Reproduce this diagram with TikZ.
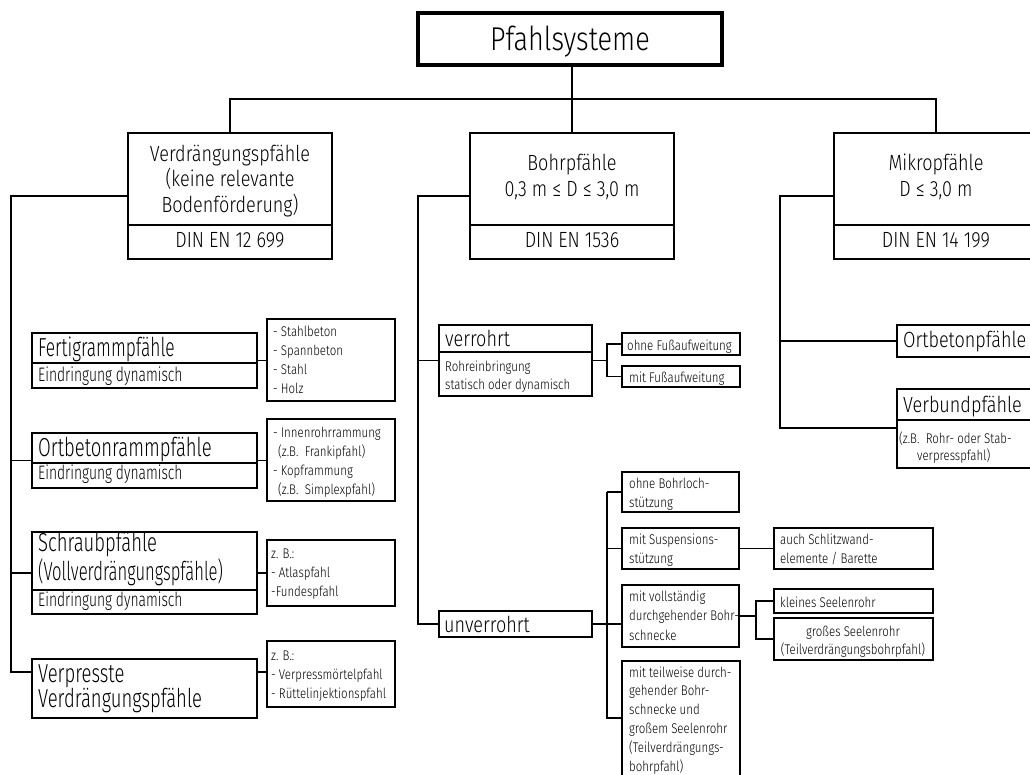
\documentclass[tikz,border=0pt]{standalone}
\usepackage{graphicx}
\usepackage{fontspec}
\IfFontExistsTF{Fira Sans Light}{%
  \setmainfont{Fira Sans Light}[FakeStretch=0.82]%
  \newfontfamily\narrowfont{Fira Sans Light}[FakeStretch=0.71]}{%
  \setmainfont{Fira Sans}[FakeStretch=0.82]%
  \newfontfamily\narrowfont{Fira Sans}[FakeStretch=0.71]}
\usetikzlibrary{calc}
\tikzset{
 box/.style={draw, line width=2.8pt, inner sep=0pt, outer sep=0pt, anchor=north west},
 con/.style={line width=1.3pt},
 div/.style={line width=1.3pt},
 lt/.style={inner sep=0pt, anchor=base west, align=left},
 ct/.style={inner sep=0pt, anchor=base, align=center},
 fA/.style={font=\fontsize{33}{33}\selectfont},
 fB/.style={font=\fontsize{22}{25.5}\selectfont},
 fC/.style={font=\narrowfont\fontsize{26}{25}\selectfont},
 fD/.style={font=\narrowfont\fontsize{19.5}{19}\selectfont},
 fF/.style={font=\fontsize{14}{19}\selectfont},
}
\newcommand\bx[6][]{\node[box,minimum width={(#5-#3)*1pt},minimum height={(#6-#4)*1pt},#1] (#2) at (#3,#4) {};}
\begin{document}
\begin{tikzpicture}[x=1pt,y=-1pt]
\useasboundingbox (0,0) rectangle (1030,774);
\fill[white] (0,0) rectangle (1030,774);
% root
\bx[line width=3.2pt]{root}{418}{13}{722}{65}
\node[ct,fA] (rootT) at (570,50) {Pfahlsysteme};
% main boxes
\bx{verd}{128}{133}{332}{259}
\bx{bohr}{470}{133}{674}{259}
\bx{mikro}{834}{133}{1038}{259}
\foreach \n in {verd,bohr,mikro} \draw[div] (\n.west |- 0,225) -- (\n.east |- 0,225);
\node[ct,fB] (verdT) at (230,212) {Verdrängungspfähle\\(keine relevante\\Bodenförderung)};
\node[ct,fB] (verdN) at (230,247) {DIN EN 12 699};
\node[ct,fB,font=\fontsize{22}{26}\selectfont] (bohrT) at (572,196) {Bohrpfähle\\0,3 m ≤ D ≤ 3,0 m};
\node[ct,fB] (bohrN) at (572,247) {DIN EN 1536};
\node[ct,fB,font=\fontsize{22}{26}\selectfont] (mikroT) at (936,196) {Mikropfähle\\D ≤ 3,0 m};
\node[ct,fB] (mikroN) at (936,247) {DIN EN 14 199};
% top connectors
\coordinate (bus) at (572,99);
\draw[con] (root.south -| bohr.north) -- (bohr.north);
\draw[con] (verd.north) |- (bus) -| (mikro.north);
% left column
\bx{fert}{32}{333}{257}{388}
\draw[div] (fert.west |- 0,363) -- (fert.east |- 0,363);
\node[lt,fC] (fertT) at (38,356) {\scalebox{0.94}[1]{Fertigrammpfähle}};
\node[lt,fD] (fertS) at (38,381) {Eindringung dynamisch};
\bx{fertL}{267}{319}{395}{401}
\node[lt,fF,font=\fontsize{14}{18.7}\selectfont] (fertLT) at (273,393) {- Stahlbeton\\- Spannbeton\\- Stahl\\- Holz};
\bx{ort}{32}{433}{257}{488}
\draw[div] (ort.west |- 0,463) -- (ort.east |- 0,463);
\node[lt,fC] (ortT) at (38,456) {Ortbetonrammpfähle};
\node[lt,fD] (ortS) at (38,479) {Eindringung dynamisch};
\bx{ortL}{267}{419}{395}{501}
\node[lt,fF] (ortLT) at (273,494) {- Innenrohrrammung\\\hspace*{5pt}(z.B.\ \ Frankipfahl)\\- Kopframmung\\\hspace*{5pt}(z.B.\ \ Simplexpfahl)};
\bx{schr}{32}{532}{257}{614}
\draw[div] (schr.west |- 0,590) -- (schr.east |- 0,590);
\node[lt,fC] (schrT) at (38,580) {Schraubpfähle\\\scalebox{0.9}[1]{(Vollverdrängungspfähle)}};
\node[lt,fD] (schrS) at (38,606) {Eindringung dynamisch};
\bx{schrL}{267}{540}{395}{606}
\node[lt,fF] (schrLT) at (271,596) {z. B.:\\- Atlaspfahl\\-Fundespfahl};
\bx{verp}{32}{659}{257}{718}
\node[lt,fC] (verpT) at (38,707) {Verpresste\\Verdrängungspfähle};
\bx{verpL}{267}{641}{395}{707}
\node[lt,fF] (verpLT) at (271,698) {z. B.:\\- Verpressmörtelpfahl\\- Rüttelinjektionspfahl};
\coordinate (j5) at (11,672);
\draw[con] (verd.west) -| (j5) -- (j5 -| verp.west);
\draw[con] (j5 |- ort.west) -- (ort.west);
\draw[con] (j5 |- schr.west) -- (schr.west);
\draw[con] (fert.east) -- (fertL.west |- fert.east);
\draw[con] (ort.east) -- (ortL.west |- ort.east);
\draw[con] (schr.east) -- (schrL.west |- schr.east);
\draw[con] (verp.east |- j5) -- (verpL.west |- j5);
% Bohr column
\bx[line width=2.4pt]{verr}{439}{325}{592}{396}
\draw[div] (verr.west |- 0,352) -- (verr.east |- 0,352);
\node[lt,fB] (verrT) at (445,346) {verrohrt};
\node[lt,fF,font=\fontsize{14}{18}\selectfont] (verrS) at (445,389) {Rohreinbringung\\statisch oder dynamisch};
\bx{ohneF}{622}{333}{740}{355}
\node[lt,fF] (ohneFT) at (627,350) {ohne Fußaufweitung};
\bx{mitF}{622}{366}{740}{387}
\node[lt,fF] (mitFT) at (629,382) {mit Fußaufweitung};
\coordinate (j1) at (607,360);
\draw[con] (verr.east) -- (j1 |- verr.east);
\draw[con] (ohneF.west) -| (j1) |- (mitF.west);
\bx[line width=2.4pt]{unv}{439}{611}{592}{637}
\node[lt,fB] (unvT) at (444,632) {unverrohrt};
\coordinate (j4) at (418,624);
\draw[con] (bohr.west) -| (j4) -- (j4 -| unv.west);
\draw[con] (j4 |- verr.west) -- (verr.west);
\bx{ohneB}{622}{472}{739}{512}
\node[lt,fF] (ohneBT) at (629,507) {ohne Bohrloch-\\stützung};
\bx{susp}{622}{528}{739}{569}
\node[lt,fF] (suspT) at (629,563) {mit Suspensions-\\stützung};
\bx{schl}{774}{528}{933}{569}
\node[lt,fF] (schlT) at (780,563) {auch Schlitzwand-\\elemente / Barette};
\bx{voll}{622}{585}{739}{647}
\node[lt,fF,font=\fontsize{14}{19.5}\selectfont] (vollT) at (629,640) {mit vollständig\\durchgehender Bohr-\\schnecke};
\bx{klein}{774}{589}{933}{613}
\node[lt,fF] (kleinT) at (780,607) {kleines Seelenrohr};
\bx{gross}{774}{618}{933}{660}
\node[ct,fF,font=\fontsize{14}{18}\selectfont] (grossT) at (853,654) {großes Seelenrohr\\(Teilverdrängungsbohrpfahl)};
\bx{teil}{622}{661}{740}{778}
\node[lt,fF,font=\fontsize{14}{18.8}\selectfont] (teilT) at (629,771) {mit teilweise durch-\\gehender Bohr-\\schnecke und\\großem Seelenrohr\\(Teilverdrängungs-\\bohrpfahl)};
\coordinate (j2) at (607,718);
\draw[con] (unv.east) -- (voll.west |- unv.east);
\draw[con] (j2 |- ohneB.west) -- (j2) -- (j2 -| teil.west);
\draw[con] (j2 |- ohneB.west) -- (ohneB.west);
\draw[con] (j2 |- susp.west) -- (susp.west);
\draw[con] (susp.east) -- (schl.west);
\coordinate (j3) at (756,616);
\draw[con] (voll.east) -- (j3);
\draw[con] (klein.west) -| (j3) |- (gross.west);
% Mikro column
\coordinate (j6) at (780,428);
\bx{ortp}{897}{325}{1045}{357}
\node[lt,fB] (ortpT) at (903,347) {Ortbetonpfähle};
\bx{verb}{897}{389}{1045}{468}
\draw[div] (verb.west |- 0,420) -- (verb.east |- 0,420);
\node[lt,fB] (verbT) at (903,412) {Verbundpfähle};
\node[lt,fF,font=\fontsize{14}{17}\selectfont] (verbS) at (899,460) {(z.B.\ \ Rohr- oder Stab-\\\hspace*{18pt}verpresspfahl)};
\draw[con] (mikro.west) -| (j6) -- (j6 -| verb.west);
\draw[con] (j6 |- ortp.west) -- (ortp.west);
\end{tikzpicture}
\end{document}
